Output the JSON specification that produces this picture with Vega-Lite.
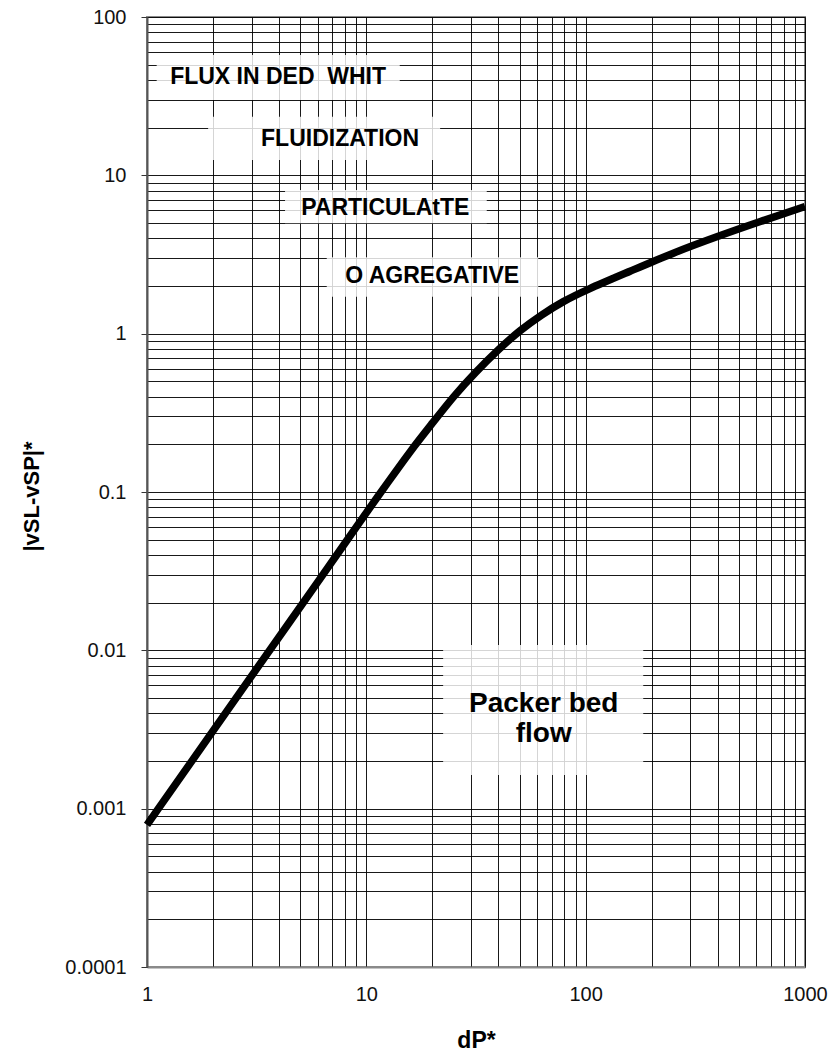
{
  "$schema": "https://vega.github.io/schema/vega-lite/v6.json",
  "autosize": {"type": "none"},
  "padding": {"left": 147, "top": 17, "right": 26, "bottom": 90},
  "width": 658,
  "height": 950,
  "background": "white",
  "config": {
    "font": "Liberation Sans",
    "view": {"stroke": "#8a8a8a", "strokeWidth": 2}
  },
  "datasets": {
    "curve": [
      {"dp": 1, "v": 0.00079},
      {"dp": 2, "v": 0.0031},
      {"dp": 3, "v": 0.00689},
      {"dp": 4.5, "v": 0.0153},
      {"dp": 6, "v": 0.027},
      {"dp": 8, "v": 0.0476},
      {"dp": 10, "v": 0.0741},
      {"dp": 12.6, "v": 0.116},
      {"dp": 15.8, "v": 0.18},
      {"dp": 20, "v": 0.272},
      {"dp": 25, "v": 0.403},
      {"dp": 31.6, "v": 0.575},
      {"dp": 40, "v": 0.794},
      {"dp": 50, "v": 1.047},
      {"dp": 63, "v": 1.318},
      {"dp": 79, "v": 1.603},
      {"dp": 100, "v": 1.884},
      {"dp": 160, "v": 2.483},
      {"dp": 250, "v": 3.236},
      {"dp": 400, "v": 4.121},
      {"dp": 630, "v": 5.129},
      {"dp": 1000, "v": 6.353}
    ],
    "notes": [
      {"label": "FLUX IN DED \u00a0WHIT", "x": 3.96, "y": 42.0, "x1": 1.107, "x2": 14.2, "y1": 29.9, "y2": 57.5, "big": false},
      {"label": "FLUIDIZATION", "x": 7.59, "y": 17.0, "x1": 1.9, "x2": 21.7, "y1": 12.5, "y2": 23.4, "big": false},
      {"label": "PARTICULAtTE", "x": 12.2, "y": 6.19, "x1": 4.26, "x2": 35.4, "y1": 4.98, "y2": 8.07, "big": false},
      {"label": "O AGREGATIVE", "x": 19.96, "y": 2.32, "x1": 6.6, "x2": 60.8, "y1": 1.71, "y2": 3.04, "big": false},
      {"label": "Packer bed\nflow", "x": 64.4, "y": 0.00458, "x1": 22.4, "x2": 183, "y1": 0.00163, "y2": 0.0108, "big": true}
    ]
  },
  "layer": [
    {
      "data": {"name": "notes"},
      "mark": {"type": "rect", "fill": "white", "fillOpacity": 0.82, "stroke": null},
      "encoding": {
        "x": {"field": "x1", "type": "quantitative", "scale": {"type": "log", "domain": [1, 1000], "nice": false}},
        "x2": {"field": "x2"},
        "y": {"field": "y1", "type": "quantitative", "scale": {"type": "log", "domain": [0.0001, 100], "nice": false}},
        "y2": {"field": "y2"}
      }
    },
    {
      "data": {"name": "curve"},
      "mark": {"type": "line", "color": "black", "strokeWidth": 7.5, "interpolate": "basis", "strokeCap": "butt"},
      "encoding": {
        "x": {
          "field": "dp", "type": "quantitative",
          "scale": {"type": "log", "domain": [1, 1000], "nice": false},
          "axis": {
            "title": "dP*",
            "titleFont": "Liberation Sans", "titleFontSize": 23, "titleFontWeight": "bold", "titleColor": "black",
            "titleX": 329, "titleY": 80, "titleBaseline": "alphabetic", "titleAnchor": null, "titleAlign": "center",
            "values": [1,2,3,4,5,6,7,8,9,10,20,30,40,50,60,70,80,90,100,200,300,400,500,600,700,800,900,1000],
            "format": "~g",
            "labelExpr": "abs(log(datum.value)/LN10 - round(log(datum.value)/LN10)) < 1e-6 ? datum.label : ''",
            "labelFont": "Liberation Sans", "labelFontSize": 20, "labelColor": "#111",
            "labelFlush": false, "labelOverlap": false, "labelPadding": 17,
            "ticks": false,
            "grid": true, "gridColor": "#000", "gridWidth": 1, "gridOpacity": 0.9,
            "domainColor": "#8a8a8a", "domainWidth": 2
          }
        },
        "y": {
          "field": "v", "type": "quantitative",
          "scale": {"type": "log", "domain": [0.0001, 100], "nice": false},
          "axis": {
            "title": "|vSL-vSP|*",
            "titleFont": "Liberation Sans", "titleFontSize": 22, "titleFontWeight": "bold", "titleColor": "black",
            "titleX": -109, "titleY": 479, "titleAngle": 270, "titleBaseline": "alphabetic", "titleAnchor": null, "titleAlign": "center",
            "values": [0.0001,0.0002,0.0003,0.0004,0.0005,0.0006,0.0007,0.0008,0.0009,0.001,0.002,0.003,0.004,0.005,0.006,0.007,0.008,0.009,0.01,0.02,0.03,0.04,0.05,0.06,0.07,0.08,0.09,0.1,0.2,0.3,0.4,0.5,0.6,0.7,0.8,0.9,1,2,3,4,5,6,7,8,9,10,20,30,40,50,60,70,80,90,100],
            "format": "~g",
            "labelExpr": "abs(log(datum.value)/LN10 - round(log(datum.value)/LN10)) < 1e-6 ? datum.label : ''",
            "labelFont": "Liberation Sans", "labelFontSize": 20, "labelColor": "#111",
            "labelFlush": false, "labelOverlap": false, "labelPadding": 15,
            "ticks": true, "tickSize": 6, "tickColor": "#333", "tickWidth": 1,
            "tickOpacity": {"condition": {"test": "abs(log(datum.value)/LN10 - round(log(datum.value)/LN10)) < 1e-6", "value": 1}, "value": 0},
            "grid": true, "gridColor": "#000", "gridWidth": 1, "gridOpacity": 0.9,
            "domainColor": "#555", "domainWidth": 2
          }
        }
      }
    },
    {
      "data": {"name": "notes"},
      "mark": {"type": "text", "font": "Liberation Sans", "fontWeight": "bold", "align": "center", "baseline": "middle", "lineBreak": "\n", "lineHeight": 30, "color": "black"},
      "encoding": {
        "x": {"field": "x", "type": "quantitative"},
        "y": {"field": "y", "type": "quantitative"},
        "text": {"field": "label"},
        "size": {"condition": {"test": "datum.big", "value": 28}, "value": 23}
      }
    }
  ]
}
